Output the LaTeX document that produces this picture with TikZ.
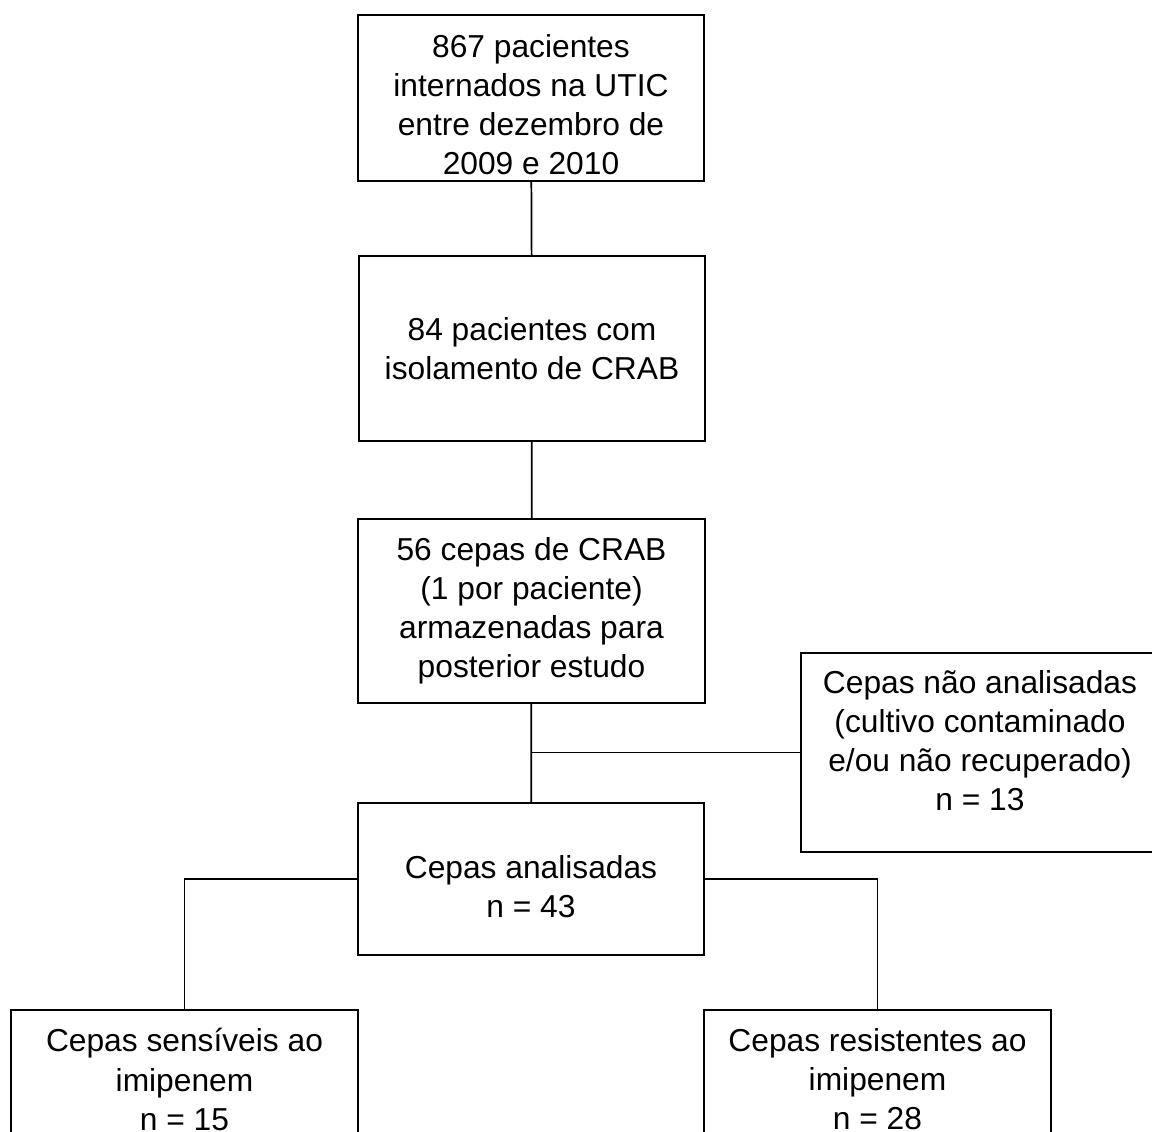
\documentclass[tikz,border=0pt]{standalone}
\usepackage{fontspec}
\setmainfont{Liberation Sans}
\usepackage{tikz}

\tikzset{caixa/.style={draw, line width=1.3pt, align=center, inner sep=0pt, minimum width=260pt, font=\fontsize{23.8pt}{29.3pt}\selectfont},
         liga/.style={line width=1.3pt}}

\begin{document}
\begin{tikzpicture}[x=0.75pt,y=0.75pt,yscale=-1,xscale=1]
    %set diagram to 1152 x 1131, bottom boxes run past the edge
    \clip (0,0) rectangle (1152,1131);

    %Shape: Rectangle [id:internados]
    \node [caixa, minimum height=124.5pt] (internados) at (531,98) {\\[-2pt]867 pacientes\\internados na UTIC\\entre dezembro de\\2009 e 2010};
    %Shape: Rectangle [id:isolamento]
    \node [caixa, minimum height=138.75pt] (isolamento) at (532,348.5) {84 pacientes com\\isolamento de CRAB};
    %Shape: Rectangle [id:armazenadas]
    \node [caixa, minimum height=138pt] (armazenadas) at (531.5,611) {56 cepas de CRAB\\(1 por paciente)\\armazenadas para\\posterior estudo};
    %Shape: Rectangle [id:naoanalisadas]
    \node [caixa, minimum width=269pt, minimum height=149.25pt] (naoanalisadas) at (980,752.5) {Cepas não analisadas\\(cultivo contaminado\\e/ou não recuperado)\\n = 13\\[-11pt]};
    %Shape: Rectangle [id:analisadas]
    \node [caixa, minimum height=114pt] (analisadas) at (531,879) {\\[0pt]Cepas analisadas\\n = 43};
    %Shape: Rectangle [id:sensiveis]
    \node [caixa, minimum height=104.25pt] (sensiveis) at (184.5,1079.5) {Cepas sensíveis ao\\imipenem\\n = 15};
    %Shape: Rectangle [id:resistentes]
    \node [caixa, minimum height=104.25pt] (resistentes) at (877.5,1079.5) {Cepas resistentes ao\\imipenem\\n = 28};

    %Straight Lines
    \draw [liga] (internados) -- (isolamento);
    \draw [liga] (isolamento) -- (armazenadas);
    \draw [liga] (armazenadas) -- (analisadas);
    \coordinate (ramo) at (armazenadas.south |- naoanalisadas.west);
    \draw [liga] (ramo) -- (naoanalisadas.west);
    %Elbow Lines
    \draw [liga] (analisadas.west) -| (sensiveis.north);
    \draw [liga] (analisadas.east) -| (resistentes.north);

\end{tikzpicture}
\end{document}
